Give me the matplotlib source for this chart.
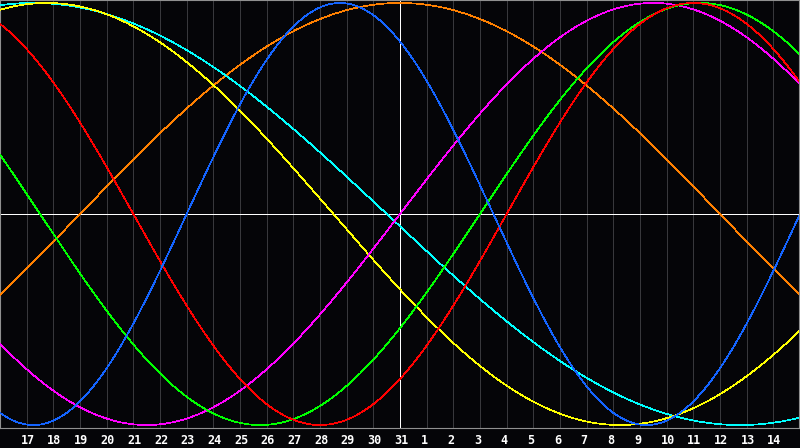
import numpy as np
import matplotlib
matplotlib.use("Agg")
import matplotlib.pyplot as plt
import matplotlib.transforms as mtransforms

# Biorhythm cycles: period (days) and days into the cycle at the left edge
cycle_periods = [23, 28, 33, 38, 43, 48, 53]
cycle_offsets = [16, 9, 15, 23, 9, 45, 12]
cycle_colors = ["#1464ff", "#ff0000", "#00ff00", "#ff00ff", "#ffff00", "#ff8000", "#00ffff"]

day_labels = [str(d) for d in range(17, 32)] + [str(d) for d in range(1, 15)]
n_days = 30
today_index = 15

BG = "#050508"

fig = plt.figure(figsize=(8.0, 4.48), dpi=100, facecolor=BG)
ax = fig.add_axes([0.0, 20 / 448, 799 / 800, 428 / 448])
ax.set_facecolor(BG)

t = np.linspace(0, n_days, 800)

# day grid lines
for k in range(1, n_days):
    ax.axvline(k, color="#38383c", lw=0.6, antialiased=False, zorder=1)

ax.axhline(0, color="white", lw=0.7, antialiased=False, zorder=2)
ax.axvline(today_index, color="white", lw=0.7, antialiased=False, zorder=2)

draw_order = [5, 6, 4, 3, 2, 1, 0]
for i in draw_order:
    P = cycle_periods[i]
    y = np.sin(2 * np.pi * (cycle_offsets[i] + t) / P)
    ax.plot(t, y, color=cycle_colors[i], lw=0.5, antialiased=False, zorder=3)

ax.set_xlim(0, n_days * 799 / 800)
ax.set_ylim(-1.014, 1.014)
ax.set_xticks([])
ax.set_yticks([])
for s in ax.spines.values():
    s.set_color("#909090")
    s.set_linewidth(0.8)

trans = mtransforms.blended_transform_factory(ax.transData, ax.transAxes)
trans = trans + mtransforms.ScaledTranslation(-6 / 100, 0, fig.dpi_scale_trans)
for k, lab in enumerate(day_labels, start=1):
    ax.text(k, -0.014, lab, transform=trans, ha="left", va="top",
            color="white", fontsize=8.5, fontweight="bold",
            family="DejaVu Sans Mono")

fig.savefig("out.png", dpi=100, facecolor=BG)
